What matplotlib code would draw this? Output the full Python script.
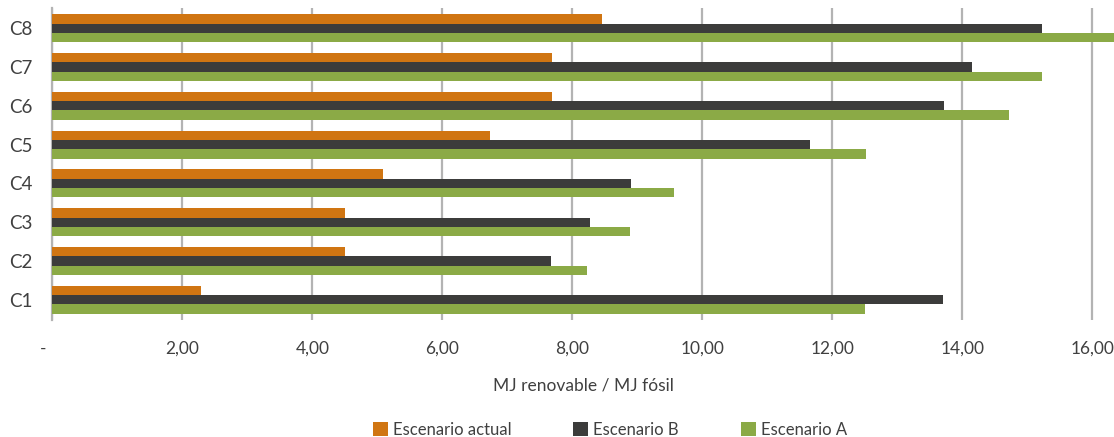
import matplotlib.pyplot as plt
import matplotlib.transforms as mtransforms
import numpy as np

categories = ['C1', 'C2', 'C3', 'C4', 'C5', 'C6', 'C7', 'C8']
actual = [2.28, 4.51, 4.51, 5.09, 6.74, 7.69, 7.69, 8.46]
escB = [13.71, 7.67, 8.27, 8.90, 11.66, 13.72, 14.15, 15.23]
escA = [12.51, 8.23, 8.89, 9.57, 12.52, 14.72, 15.22, 16.50]
xticks = [0, 2, 4, 6, 8, 10, 12, 14, 16]
xticklabels = ['-', '2,00', '4,00', '6,00', '8,00', '10,00', '12,00', '14,00', '16,00']

plt.rcParams['font.family'] = ['Lato', 'DejaVu Sans']

fig = plt.figure(figsize=(11.14, 4.37), dpi=100)
ax = fig.add_axes([52.3 / 1114, 1 - 320 / 437, 1 - 52.3 / 1114, (320 - 8) / 437])

y = np.arange(len(categories))
h = 0.24
ax.barh(y + h, actual, height=h, color='#D07512', label='Escenario actual', zorder=3)
ax.barh(y, escB, height=h, color='#3C3C3B', label='Escenario B', zorder=3)
ax.barh(y - h, escA, height=h, color='#8BAA46', label='Escenario A', zorder=3)

ax.set_xlim(0, (1114 - 52.3) / 65)
ax.set_ylim(-0.52, 7.52)
ax.set_xticks(xticks)
ax.set_xticklabels(xticklabels)
ax.set_yticks(y)
ax.set_yticklabels(categories)

ax.xaxis.grid(True, color='#B3B3B3', linewidth=1.6, zorder=0)
for s in ['top', 'right', 'bottom']:
    ax.spines[s].set_visible(False)
ax.spines['left'].set_color('#B3B3B3')
ax.spines['left'].set_linewidth(1.6)
ax.tick_params(axis='both', length=0, labelsize=12.5, colors='#404040')
ax.tick_params(axis='x', pad=15)
ax.tick_params(axis='y', pad=14, labelsize=13.5)

# the "-" zero label sits a bit left of the axis
lbl = ax.get_xticklabels()[0]
lbl.set_transform(lbl.get_transform() + mtransforms.ScaledTranslation(-9 / 100, 0, fig.dpi_scale_trans))

ax.set_xlabel('MJ renovable / MJ fósil', fontsize=12.5, color='#404040', labelpad=15)

handles, labels = ax.get_legend_handles_labels()
fig.legend(handles, labels, loc='center', bbox_to_anchor=(610 / 1114, 1 - 430 / 437), ncol=3,
           frameon=False, fontsize=12, handlelength=0.9, handleheight=0.9,
           handletextpad=0.3, columnspacing=3.7, labelcolor='#404040')

fig.savefig('out.png', dpi=100)
